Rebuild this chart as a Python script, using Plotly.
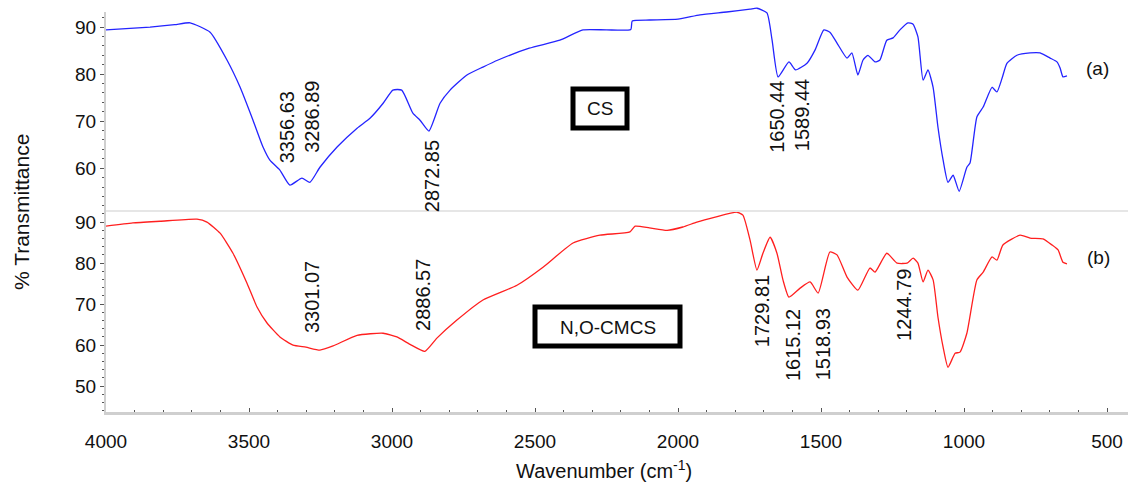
import plotly.graph_objects as go

# ---------------- data ----------------
cs_wn = [4000, 3846, 3760, 3706, 3636, 3577, 3531, 3486, 3451, 3427, 3392, 3357, 3315, 3287,
         3252, 3192, 3122, 3077, 3031, 2997, 2966, 2927, 2902, 2871, 2832, 2797, 2738, 2682,
         2629, 2520, 2413, 2332, 2250, 2165, 2160, 2100, 2000, 1923, 1830, 1748, 1724, 1689,
         1671, 1650, 1612, 1589, 1549, 1521, 1490, 1469, 1444, 1409, 1392, 1371, 1353, 1336,
         1311, 1294, 1270, 1248, 1224, 1196, 1178, 1161, 1143, 1126, 1108, 1091, 1073, 1056,
         1038, 1017, 990, 979, 955, 933, 902, 885, 867, 850, 815, 769, 734, 699, 675, 664,
         654, 640]
cs_t = [89.4, 90.0, 90.5, 90.9, 88.9, 83.0, 77.2, 70.2, 64.5, 61.7, 59.6, 56.4, 57.9, 57.0,
        60.2, 64.5, 68.5, 70.6, 73.8, 76.6, 76.6, 71.7, 70.2, 67.9, 73.8, 76.6, 79.8, 81.5,
        83.0, 85.5, 87.2, 89.4, 89.4, 89.5, 91.3, 91.5, 91.7, 92.6, 93.2, 93.8, 94.0, 93.0,
        87.2, 79.4, 82.6, 80.9, 82.3, 85.1, 89.4, 88.9, 86.6, 83.4, 84.5, 79.8, 83.0, 84.0,
        82.6, 83.0, 87.2, 87.7, 89.4, 90.9, 90.6, 87.9, 78.7, 80.9, 77.2, 68.7, 61.7, 57.0,
        58.5, 55.1, 60.2, 61.1, 70.9, 73.0, 77.2, 76.2, 79.1, 82.3, 84.0, 84.5, 84.5, 83.4,
        82.6, 81.3, 79.4, 79.6]

cmcs_wn = [4000, 3906, 3811, 3682, 3647, 3601, 3556, 3507, 3472, 3437, 3392, 3346, 3301, 3252,
           3206, 3122, 3031, 2983, 2937, 2885, 2843, 2773, 2682, 2563, 2472, 2367, 2273, 2168,
           2150, 2100, 2038, 1983, 1934, 1870, 1794, 1773, 1748, 1724, 1703, 1678, 1654, 1633,
           1612, 1573, 1538, 1510, 1469, 1444, 1409, 1371, 1329, 1311, 1270, 1234, 1199, 1178,
           1161, 1143, 1126, 1108, 1091, 1073, 1056, 1031, 1014, 990, 955, 933, 902, 885, 864,
           804, 769, 724, 692, 671, 654, 640]
cmcs_t = [89.0, 89.8, 90.2, 90.7, 90.0, 87.3, 82.4, 75.1, 69.3, 65.4, 62.0, 60.0, 59.5, 58.8,
          59.8, 62.4, 62.9, 62.0, 60.2, 58.5, 61.7, 66.1, 71.0, 74.6, 79.0, 84.9, 86.8, 87.6,
          89.0, 88.6, 88.0, 88.8, 90.0, 91.2, 92.4, 91.7, 85.6, 78.3, 82.4, 86.3, 82.4, 75.9,
          71.7, 73.9, 75.4, 72.7, 82.7, 82.0, 76.6, 73.4, 78.8, 77.8, 82.4, 80.0, 80.0, 81.2,
          80.0, 75.4, 78.3, 75.9, 66.8, 59.5, 54.6, 58.0, 58.3, 62.9, 75.9, 77.8, 81.5, 80.7,
          84.4, 86.8, 86.1, 85.9, 84.4, 83.2, 80.2, 79.8]

cs_peaks = ["3356.63", "3286.89", "2872.85", "1650.44", "1589.44"]
cmcs_peaks = ["3301.07", "2886.57", "1729.81", "1615.12", "1518.93", "1244.79"]
x_ticks = [4000, 3500, 3000, 2500, 2000, 1500, 1000, 500]

# label placement (wavenumber of text centre, transmittance of text centre)
cs_lab_x = [3367, 3280, 2860, 1654, 1566]
cs_lab_y = [68.7, 70.9, 58.3, 70.9, 71.3]
cmcs_lab_x = [3280, 2892, 1706, 1598, 1493, 1210]
cmcs_lab_y = [71.7, 72.2, 68.3, 60.0, 60.2, 69.8]

# ---------------- figure ----------------
W, H = 1128, 488
L, R, T, B = 106, 0, 3, 76
PW, PH = W - L - R, H - T - B
FONT = "Liberation Sans, Arial, sans-serif"
AX_TOP = 12   # pixel row where the visible axes begin


def px(xp):
    return (xp - L) / PW


def py(yp):
    return (H - B - yp) / PH


split = py(211)
top_lo, top_hi = 50.9, 93.2
top_scale = (top_hi - top_lo) / (211 - AX_TOP)   # data units per pixel
ext_hi = top_hi + top_scale * (AX_TOP - T)       # lets the CS curve rise above the axis top

fig = go.Figure()
# empty trace so that the visible top axis is drawn
fig.add_trace(go.Scatter(x=[None], y=[None], mode="lines", xaxis="x", yaxis="y",
                         showlegend=False, hoverinfo="skip"))
fig.add_trace(go.Scatter(x=cs_wn, y=cs_t, mode="lines",
                         line=dict(color="#2424ff", width=1.3, shape="spline", smoothing=0.5),
                         xaxis="x", yaxis="y3", showlegend=False))
fig.add_trace(go.Scatter(x=cmcs_wn, y=cmcs_t, mode="lines",
                         line=dict(color="#ff1f1f", width=1.3, shape="spline", smoothing=0.5),
                         xaxis="x2", yaxis="y2", showlegend=False))

xr = [4000, 4000 - PW / 143 * 500]
yax_common = dict(
    showgrid=False, zeroline=False, showline=True, linecolor="#cfcfcf", linewidth=2,
    ticks="outside", ticklen=4, tickcolor="#555", tickwidth=1, dtick=10,
    minor=dict(dtick=2, ticks="outside", ticklen=2, tickcolor="#555"),
    tickfont=dict(family=FONT, size=19, color="#111"),
)

annotations = []
for lab, xx, yy in zip(cs_peaks, cs_lab_x, cs_lab_y):
    annotations.append(dict(x=xx, y=yy, xref="x", yref="y", text=lab, textangle=-90,
                            xanchor="center", yanchor="middle",
                            showarrow=False, font=dict(family=FONT, size=20, color="#111")))
for lab, xx, yy in zip(cmcs_peaks, cmcs_lab_x, cmcs_lab_y):
    annotations.append(dict(x=xx, y=yy, xref="x2", yref="y2", text=lab, textangle=-90,
                            xanchor="center", yanchor="middle",
                            showarrow=False, font=dict(family=FONT, size=20, color="#111")))


def paper_text(xp, yp, text, size, angle=0):
    return dict(x=px(xp), y=py(yp), xref="paper", yref="paper", text=text, textangle=angle,
                xanchor="center", yanchor="middle", showarrow=False,
                font=dict(family=FONT, size=size, color="#111"))


annotations += [
    paper_text(600, 109, "CS", 19),
    paper_text(608, 327, "N,O-CMCS", 19),
    paper_text(1097, 68, "(a)", 19),
    paper_text(1098, 257, "(b)", 19),
    paper_text(21, 212, "% Transmittance", 21, -90),
    paper_text(604, 469, "Wavenumber (cm<sup>-1</sup>)", 20),
]

shapes = [
    dict(type="line", xref="paper", yref="paper", x0=0, x1=1, y0=split, y1=split,
         line=dict(color="#e6e6e6", width=2)),
    dict(type="rect", xref="paper", yref="paper", x0=px(573), x1=px(627), y0=py(128), y1=py(89),
         line=dict(color="black", width=5)),
    dict(type="rect", xref="paper", yref="paper", x0=px(535), x1=px(680), y0=py(346), y1=py(307),
         line=dict(color="black", width=5)),
]

fig.update_layout(
    width=W, height=H,
    margin=dict(l=L, r=R, t=T, b=B),
    paper_bgcolor="white", plot_bgcolor="white",
    xaxis=dict(domain=[0, 1], range=xr, anchor="y", visible=False),
    yaxis=dict(domain=[split, py(AX_TOP)], range=[top_lo, top_hi], anchor="x", **yax_common),
    yaxis3=dict(domain=[split, 1], range=[top_lo, ext_hi], anchor="x", visible=False),
    xaxis2=dict(domain=[0, 1], range=xr, anchor="y2", showgrid=False, zeroline=False,
                showline=True, linecolor="#cfcfcf", linewidth=3,
                tickvals=x_ticks, ticks="inside", ticklen=4, tickcolor="#555",
                minor=dict(dtick=100, ticks="inside", ticklen=2, tickcolor="#555"),
                ticklabelstandoff=10,
                tickfont=dict(family=FONT, size=19, color="#111")),
    yaxis2=dict(domain=[0, split], range=[43.7, 92.7], anchor="x2", **yax_common),
    annotations=annotations,
    shapes=shapes,
)

fig.write_html("out.html")
